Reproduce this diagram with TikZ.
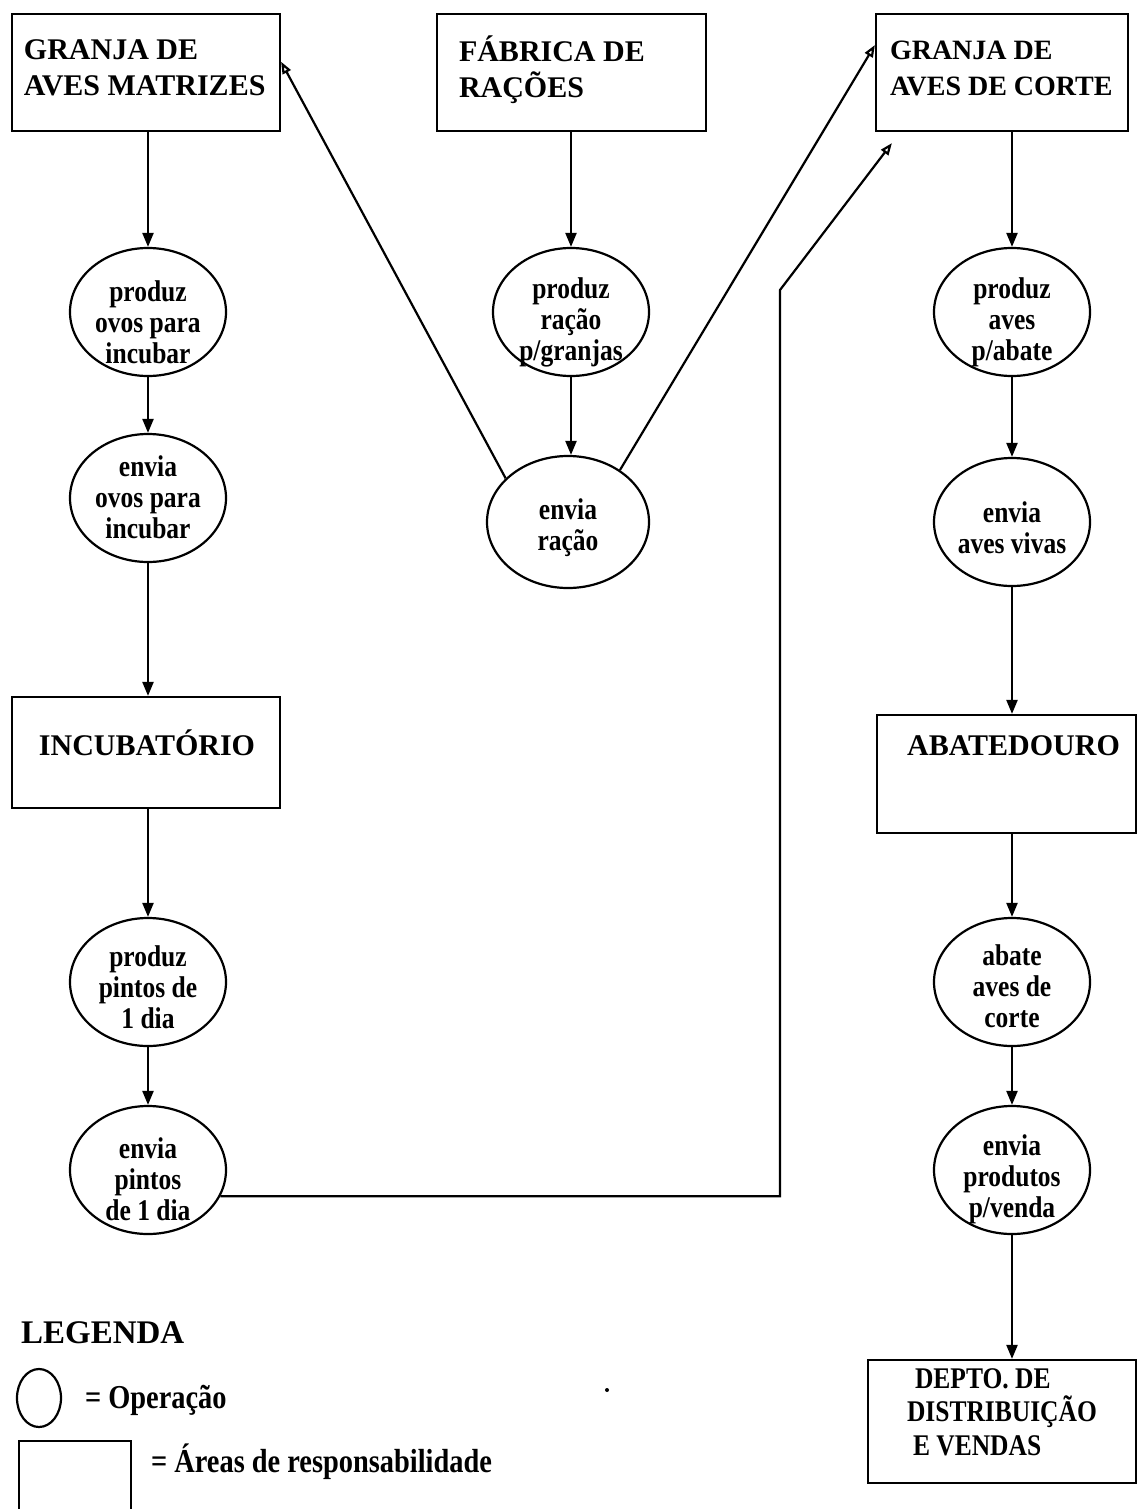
\documentclass[tikz,border=0pt]{standalone}
\usepackage{fontspec}
\setmainfont{Liberation Serif}
\newfontfamily\narrowfont[FakeStretch=0.85]{Liberation Serif}
\usetikzlibrary{shapes.geometric,arrows.meta,calc}
\begin{document}
\begin{tikzpicture}[x=0.5pt,y=-0.5pt,
  line width=1.1pt,
  area/.style={draw,rectangle,inner sep=0pt,minimum width=134pt,minimum height=58.5pt},
  oper/.style={draw,ellipse,inner sep=0pt,minimum width=78pt,minimum height=64pt},
  boxtxt/.style={anchor=north west,inner sep=0pt,align=left,font=\bfseries\fontsize{15pt}{18pt}\selectfont},
  boxone/.style={anchor=base,inner sep=0pt,font=\bfseries\fontsize{15pt}{18pt}\selectfont},
  optxt/.style={inner sep=0pt,align=center,font=\narrowfont\bfseries\fontsize{15pt}{15.5pt}\selectfont},
  legtxt/.style={anchor=west,inner sep=0pt,font=\narrowfont\bfseries\fontsize{16.7pt}{18pt}\selectfont},
  flow/.style={-{Triangle[length=7pt,width=5.5pt]}},
  feed/.style={-{Triangle[open,length=6pt,width=4.5pt]}}]
\useasboundingbox (0,0) rectangle (1138,1509);
\newcommand\tstrut{\rule{0pt}{12pt}}

% areas of responsibility
\node[area] (b1) at (146,72.5) {};
\node[area,minimum width=134.5pt] (b2) at (571.5,72.5) {};
\node[area,minimum width=126pt] (b3) at (1002,72.5) {};
\node[area,minimum height=55.5pt] (b4) at (146,752.5) {};
\node[area,minimum width=129.5pt,minimum height=59pt] (b5) at (1006.5,774) {};
\node[area,minimum width=134pt,minimum height=61.5pt] (b6) at (1002,1421.5) {};

\node[boxtxt] (b1t) at ($(b1.north west)+(12,22)$) {\tstrut GRANJA DE\\AVES MATRIZES};
\node[boxtxt] (b2t) at ($(b2.north west)+(22,22)$) {\tstrut FÁBRICA DE\\RAÇÕES};
\node[boxtxt,font=\bfseries\fontsize{14pt}{18pt}\selectfont] (b3t) at ($(b3.north west)+(14,22)$) {\tstrut GRANJA DE\\AVES DE CORTE};
\node[boxone] (b4t) at ($(b4.center)+(1,2.5)$) {INCUBATÓRIO};
\node[boxone] (b5t) at ($(b5.center)+(7,-19)$) {ABATEDOURO};
\node[anchor=north west,inner sep=0pt,align=left,font=\narrowfont\bfseries\fontsize{15pt}{16.75pt}\selectfont]
  (b6t) at ($(b6.north west)+(39,4)$) {\tstrut\hspace{4pt}DEPTO. DE\\DISTRIBUIÇÃO\\\hspace{3pt}E VENDAS};

% operations
\node[oper] (c1) at (148,312) {};
\node[oper] (c2) at (148,498) {};
\node[oper] (c3) at (148,982) {};
\node[oper] (c4) at (148,1170) {};
\node[oper] (m1) at (571,312) {};
\node[oper,minimum width=81pt,minimum height=66pt] (m2) at (568,522) {};
\node[oper] (r1) at (1012,312) {};
\node[oper] (r2) at (1012,522) {};
\node[oper] (r3) at (1012,982) {};
\node[oper] (r4) at (1012,1170) {};

\node[optxt] (c1t) at ($(c1)+(0,10)$) {produz\\ovos para\\incubar};
\node[optxt] (c2t) at ($(c2)+(0,-1)$) {envia\\ovos para\\incubar};
\node[optxt] (c3t) at ($(c3)+(0,5)$) {produz\\pintos de\\1 dia};
\node[optxt] (c4t) at ($(c4)+(0,9)$) {envia\\pintos\\de 1 dia};
\node[optxt] (m1t) at ($(m1)+(0,10)$) {produz\\ração\\p/granjas};
\node[optxt] (m2t) at ($(m2)+(0,6)$) {envia\\ração};
\node[optxt] (r1t) at ($(r1)+(0,10)$) {produz\\aves\\p/abate};
\node[optxt] (r2t) at ($(r2)+(0,6)$) {envia\\aves vivas};
\node[optxt] (r3t) at ($(r3)+(0,4)$) {abate\\aves de\\corte};
\node[optxt] (r4t) at ($(r4)+(0,9)$) {envia\\produtos\\p/venda};

% vertical flows
\draw[flow] (b1.south -| c1) -- (c1.north);
\draw[flow] (c1.south) -- (c2.north);
\draw[flow] (c2.south) -- (c2.south |- b4.north);
\draw[flow] (b4.south -| c3) -- (c3.north);
\draw[flow] (c3.south) -- (c4.north);
\draw[flow] (b2.south -| m1) -- (m1.north);
\draw[flow] (m1.south) -- (m2.north -| m1);
\draw[flow] (b3.south -| r1) -- (r1.north);
\draw[flow] (r1.south) -- (r2.north);
\draw[flow] (r2.south) -- (r2.south |- b5.north);
\draw[flow] (b5.south -| r3) -- (r3.north);
\draw[flow] (r3.south) -- (r4.north);
\draw[flow] (r4.south) -- (r4.south |- b6.north);

% feed and chicks deliveries
\draw[feed] (m2.145) -- ($(b1.north east)!0.41!(b1.south east)$);
\draw[feed] (m2.45) -- ($(b3.north west)!0.27!(b3.south west)$);
\coordinate (k2) at (780,290);
\coordinate (t3) at ($(b3.south west)+(17,11)$);
\draw[feed] (c4.-20) -- (c4.-20 -| k2) -- (k2) -- (t3);

% legend
\node[anchor=west,inner sep=0pt,font=\bfseries\fontsize{16.5pt}{18pt}\selectfont] (lgt) at (20,1333) {LEGENDA};
\node[draw,ellipse,inner sep=0pt,minimum width=22pt,minimum height=29pt] (lg1) at (39,1398) {};
\node[legtxt] (lg1t) at (84,1400) {= Operação};
\begin{scope}
\clip (0,0) rectangle (1138,1509);
\node[draw,rectangle,anchor=north west,inner sep=0pt,minimum width=56pt,minimum height=45pt] (lg2) at (18,1440) {};
\end{scope}
\node[legtxt] (lg2t) at (150,1462) {= Áreas de responsabilidade};
\fill (607,1390) circle (1pt);
\end{tikzpicture}
\end{document}
